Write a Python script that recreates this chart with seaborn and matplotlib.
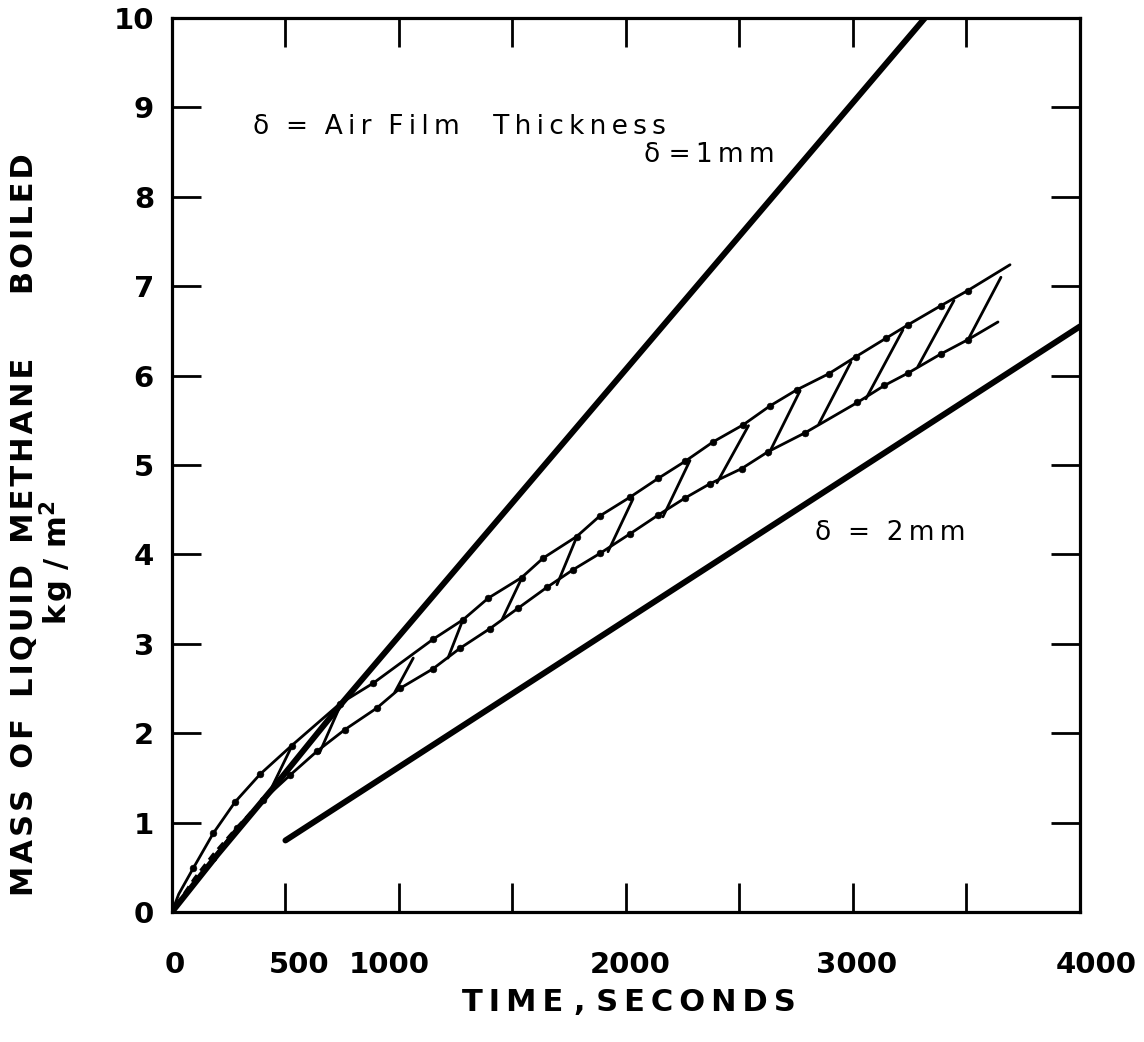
import numpy as np
import pandas as pd
import matplotlib
matplotlib.use("Agg")
import matplotlib.pyplot as plt
import matplotlib.transforms as mtransforms
import seaborn as sns

# --- data (time in s, mass in kg/m2) ---
t_1mm = [0, 200, 450, 740, 2000, 3317]
m_1mm = [0, 0.64, 1.40, 2.31, 6.07, 10.0]

t_2mm = [500, 4000]
m_2mm = [0.80, 6.55]

t_upper = [0, 30, 94, 182, 278, 388, 527, 740, 887, 1150, 1283, 1393, 1540, 1636,
           1783, 1885, 2018, 2142, 2260, 2385, 2517, 2634, 2752, 2893, 3012, 3147,
           3244, 3386, 3505, 3692]
m_upper = [0, 0.20, 0.49, 0.88, 1.23, 1.54, 1.86, 2.33, 2.56, 3.05, 3.27, 3.51, 3.74, 3.96,
           4.20, 4.43, 4.64, 4.85, 5.04, 5.26, 5.45, 5.66, 5.84, 6.02, 6.21, 6.42,
           6.57, 6.78, 6.95, 7.24]

t_lower = [0, 100, 182, 285, 400, 520, 640, 762, 902, 1004, 1150, 1269, 1401, 1526,
           1651, 1768, 1885, 2018, 2142, 2260, 2370, 2510, 2627, 2789, 3020, 3139,
           3244, 3386, 3505, 3639]
m_lower = [0, 0.32, 0.60, 0.94, 1.25, 1.53, 1.80, 2.04, 2.28, 2.50, 2.72, 2.95, 3.17, 3.40,
           3.63, 3.83, 4.01, 4.23, 4.44, 4.63, 4.79, 4.96, 5.15, 5.36, 5.70, 5.89,
           6.03, 6.24, 6.40, 6.60]

# short dashed strokes inside the narrow band near the origin
t_mid = [20, 100, 180, 270, 360]
m_mid = [0.08, 0.38, 0.64, 0.90, 1.15]

# hatch strokes between the two band curves
hatch_top_t = [529, 749, 1063, 1282, 1542, 1784, 2031, 2282, 2540, 2767, 2991, 3220, 3445, 3652]
hatch_top_m = [1.86, 2.35, 2.84, 3.27, 3.74, 4.20, 4.62, 5.05, 5.44, 5.83, 6.15, 6.51, 6.84, 7.10]
hatch_bot_t = [441, 650, 982, 1216, 1454, 1696, 1921, 2163, 2401, 2626, 2850, 3057, 3286, 3511]
hatch_bot_m = [1.40, 1.78, 2.46, 2.84, 3.27, 3.66, 4.03, 4.42, 4.80, 5.11, 5.46, 5.74, 6.10, 6.42]

x_ticks = [0, 500, 1000, 1500, 2000, 2500, 3000, 3500, 4000]
x_ticklabels = ["0", "500", "1000", "", "2000", "", "3000", "", "4000"]
y_ticks = list(range(0, 11))

sns.set_theme(style="white")
plt.rcParams['font.family'] = ['DejaVu Sans']
plt.rcParams['text.color'] = 'black'
plt.rcParams['xtick.color'] = 'black'
plt.rcParams['ytick.color'] = 'black'


def tracked(s, gap="\u200a", word=" "):
    # the original lettering is widely spaced; spread letters with narrow spaces
    return word.join(gap.join(w) for w in s.split(" "))


fig = plt.figure(figsize=(11.44, 10.42), dpi=100)
ax = fig.add_axes([0.1503, 0.1248, 0.7937, 0.8579])

thick = 4.3
thin = 2.0

sns.lineplot(x=t_1mm, y=m_1mm, ax=ax, color="black", lw=thick, sort=False, estimator=None)
sns.lineplot(x=t_2mm, y=m_2mm, ax=ax, color="black", lw=thick, sort=False, estimator=None,
             solid_capstyle="round")
sns.lineplot(x=t_upper, y=m_upper, ax=ax, color="black", lw=thin, sort=False, estimator=None)
sns.lineplot(x=t_lower, y=m_lower, ax=ax, color="black", lw=thin, sort=False, estimator=None)
ax.plot(t_mid, m_mid, color="black", lw=thin, ls=(0, (3, 2)))

# hatch strokes as one long-form table
hatch = pd.DataFrame({
    "t": hatch_top_t + hatch_bot_t,
    "m": hatch_top_m + hatch_bot_m,
    "k": list(range(len(hatch_top_t))) * 2,
})
sns.lineplot(data=hatch, x="t", y="m", units="k", estimator=None, ax=ax,
             color="black", lw=thin, sort=False)

# data dots on both band curves
sns.scatterplot(x=t_upper[2:-1], y=m_upper[2:-1], ax=ax, color="black", s=24, edgecolor=None)
sns.scatterplot(x=t_lower[2:-1], y=m_lower[2:-1], ax=ax, color="black", s=24, edgecolor=None)

ax.set_xlim(0, 4000)
ax.set_ylim(0, 10)

# axes frame and inward ticks
for sp in ax.spines.values():
    sp.set_linewidth(2.3)
    sp.set_color("black")
ax.set_xticks(x_ticks)
ax.set_xticklabels(x_ticklabels)
ax.set_yticks(y_ticks)
ax.tick_params(direction="in", length=21, width=2, color="black",
               top=True, right=True, bottom=True, left=True)
ax.tick_params(axis="x", pad=28, labelsize=21)
ax.tick_params(axis="y", pad=13, labelsize=21)
for lab in ax.get_xticklabels() + ax.get_yticklabels():
    lab.set_fontweight("bold")

# small horizontal offsets of some x labels, as in the original
shifts = {"0": 3, "500": 14, "1000": -10, "2000": 4, "3000": 4, "4000": 16}
for lab in ax.get_xticklabels():
    dx = shifts.get(lab.get_text(), 0)
    if dx:
        lab.set_transform(lab.get_transform() +
                          mtransforms.ScaledTranslation(dx / 100, 0, fig.dpi_scale_trans))

ax.set_xlabel("")
ax.set_ylabel("")
fig.text(0.550, 0.038, tracked("TIME , SECONDS", gap="\u200a\u200a"), ha="center", va="center",
         fontsize=22, fontweight="bold")
fig.text(0.021, 0.497, tracked("MASS OF LIQUID METHANE   BOILED", word="  "), rotation=90,
         ha="center", va="center", fontsize=22, fontweight="bold")
fig.text(0.050, 0.460, tracked("kg / m") + r"$^{\mathbf{2}}$", rotation=90,
         ha="center", va="center", fontsize=22, fontweight="bold")

# annotations
ax.text(357, 8.78, tracked("δ = Air Film  Thickness", gap="\u2009", word="  "), fontsize=19,
        va="center", ha="left")
ax.text(2079, 8.47, tracked("δ =1mm", gap="\u2009"), fontsize=19, va="center", ha="left")
ax.text(2833, 4.24, tracked("δ = 2mm", gap="\u2009", word="  "), fontsize=19,
        va="center", ha="left")

fig.savefig("out.png", dpi=100)
